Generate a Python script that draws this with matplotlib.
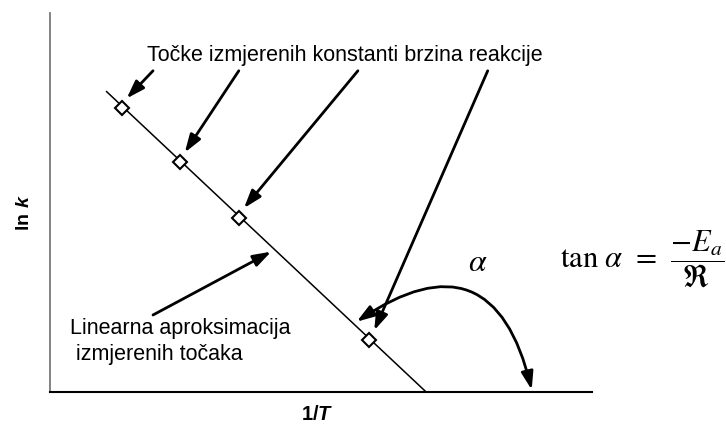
import matplotlib
matplotlib.use("Agg")
import matplotlib.pyplot as plt
from matplotlib.patches import FancyArrowPatch

plt.rcParams['font.family'] = ['Liberation Sans', 'DejaVu Sans']
plt.rcParams['mathtext.fontset'] = 'custom'
plt.rcParams['mathtext.rm'] = 'Liberation Sans'
plt.rcParams['mathtext.bf'] = 'Liberation Sans:bold'
plt.rcParams['mathtext.bfit'] = 'Liberation Sans:bold:italic'

# measured points (1/T, ln k), arbitrary units
inv_T = [1.33, 2.40, 3.49, 5.89]
ln_k = [7.50, 6.07, 4.60, 1.37]

# linear fit drawn through the points, down to the 1/T axis
fit_x = [1.05, 6.93]
fit_y = [7.93, 0.0]

title_text = "Točke izmjerenih konstanti brzina reakcije"
fit_text_1 = "Linearna aproksimacija"
fit_text_2 = " izmjerenih točaka"

fig = plt.figure(figsize=(7.26, 4.24), dpi=100)
ax = fig.add_axes([0.0683, 0.0762, 0.7478, 0.8925])
ax.set_xlim(0, 10)
ax.set_ylim(0, 10)

ax.plot(fit_x, fit_y, color='black', lw=1.1, zorder=2)
ax.plot(inv_T, ln_k, linestyle='none', marker='D', markersize=7.3,
        markerfacecolor='white', markeredgecolor='black', markeredgewidth=1.5, zorder=3)

# spines: only left and bottom, no ticks
for side in ['top', 'right']:
    ax.spines[side].set_visible(False)
ax.spines['left'].set_color('#7a7a7a')
ax.spines['left'].set_linewidth(1.3)
ax.spines['bottom'].set_color('black')
ax.spines['bottom'].set_linewidth(1.5)
ax.set_xticks([])
ax.set_yticks([])

ax.set_xlabel(r'$\mathbf{1/}\mathbfit{T}$', fontsize=14.5)
ax.xaxis.set_label_coords(0.4935, -0.034)
ax.set_ylabel(r'$\mathbf{ln}\ \mathbfit{k}$', fontsize=14)
ax.yaxis.set_label_coords(-0.031, 0.475)

arrow_kw = dict(arrowstyle='-|>,head_length=0.6,head_width=0.2', color='black',
                lw=2, mutation_scale=18, shrinkA=0, shrinkB=0)

# title with four arrows to the measured points
ax.text(1.80, 8.74, title_text, fontsize=15.5, ha='left', va='baseline')
tails_x = [1.905, 3.485, 5.679, 8.07]
for tx, px, py in zip(tails_x, inv_T, ln_k):
    ax.annotate('', xy=(px + 0.09, py + 0.25), xytext=(tx, 8.48),
                arrowprops=arrow_kw, annotation_clip=False)

# fit label
ax.text(0.367, 1.525, fit_text_1, fontsize=15.5, ha='left', va='baseline')
ax.text(0.367, 0.838, fit_text_2, fontsize=15.5, ha='left', va='baseline')
ax.annotate('', xy=(4.082, 3.70), xytext=(1.905, 2.027),
            arrowprops=arrow_kw, annotation_clip=False)

# angle alpha between line and axis
arc = FancyArrowPatch((8.88, 0.05), (5.657, 1.85),
                      connectionstyle='arc3,rad=0.72',
                      arrowstyle='<|-|>,head_length=0.6,head_width=0.2',
                      color='black', lw=2, mutation_scale=18,
                      shrinkA=0, shrinkB=0, clip_on=False)
ax.add_patch(arc)

ax.text(7.89, 3.40, r'$\alpha$', fontsize=23, ha='center', va='center',
        math_fontfamily='stix')
ax.text(9.40, 3.51, r'$\tan\,\alpha\;\,=\;\,\dfrac{-E_a}{\Re}$', fontsize=22,
        ha='left', va='center', math_fontfamily='stix', clip_on=False)

fig.savefig('out.png', dpi=100)
